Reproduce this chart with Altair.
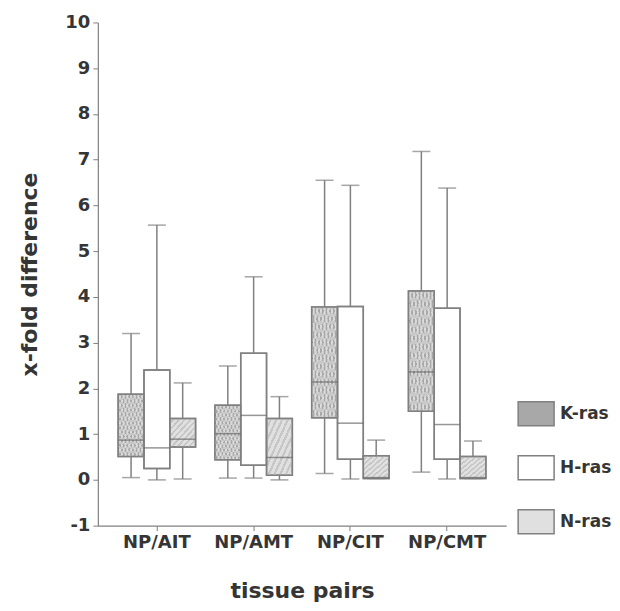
import altair as alt
import pandas as pd

groups = ["NP/AIT", "NP/AMT", "NP/CIT", "NP/CMT"]
genes = ["K-ras", "H-ras", "N-ras"]

k_lo = [0.05, 0.04, 0.14, 0.17]
k_q1 = [0.51, 0.44, 1.36, 1.50]
k_med = [0.87, 1.01, 2.14, 2.36]
k_q3 = [1.87, 1.63, 3.78, 4.13]
k_hi = [3.20, 2.49, 6.55, 7.18]

h_lo = [0.00, 0.04, 0.02, 0.02]
h_q1 = [0.25, 0.32, 0.45, 0.45]
h_med = [0.70, 1.41, 1.24, 1.21]
h_q3 = [2.40, 2.77, 3.79, 3.75]
h_hi = [5.57, 4.44, 6.44, 6.38]

n_lo = [0.02, 0.00, 0.03, 0.03]
n_q1 = [0.72, 0.10, 0.03, 0.03]
n_med = [0.89, 0.49, 0.05, 0.05]
n_q3 = [1.34, 1.34, 0.53, 0.51]
n_hi = [2.12, 1.82, 0.87, 0.85]

fills = ["#a8a8a8", "#ffffff", "#e0e0e0"]

rows = []
for gene, lo, q1, med, q3, hi in [
    ("K-ras", k_lo, k_q1, k_med, k_q3, k_hi),
    ("H-ras", h_lo, h_q1, h_med, h_q3, h_hi),
    ("N-ras", n_lo, n_q1, n_med, n_q3, n_hi),
]:
    for i, g in enumerate(groups):
        rows.append(dict(pair=g, gene=gene, lo=lo[i], q1=q1[i], med=med[i], q3=q3[i], hi=hi[i]))
df = pd.DataFrame(rows)

FONT = "DejaVu Sans"
LINE = "#808080"
TXT = "#353535"


def stripes(n, c_on, c_off, frac, x1, y1, x2, y2):
    stops = []
    for i in range(n):
        a = i / n
        b = (i + frac) / n
        c = (i + 1) / n
        stops += [
            {"offset": a, "color": c_off},
            {"offset": b, "color": c_off},
            {"offset": b, "color": c_on},
            {"offset": c, "color": c_on},
        ]
    return {"gradient": "linear", "x1": x1, "y1": y1, "x2": x2, "y2": y2, "stops": stops}


x = alt.X("pair:N", sort=groups, title="tissue pairs",
          scale=alt.Scale(paddingInner=0.2, paddingOuter=0.21),
          axis=alt.Axis(labelAngle=0, labelFont=FONT, labelFontSize=18, labelFontWeight="bold",
                        labelColor=TXT, titleFont=FONT, titleFontSize=22, titleFontWeight="bold",
                        titleColor=TXT, titlePadding=29, domainColor=LINE, tickColor=LINE,
                        tickSize=5, labelPadding=3, domainWidth=1.2))
xo = alt.XOffset("gene:N", sort=genes, scale=alt.Scale(paddingInner=0, paddingOuter=0))
yscale = alt.Scale(domain=[-1, 10], nice=False, zero=False)
yaxis = alt.Axis(values=list(range(-1, 11)), labelExpr="datum.value + ''",
                 labelFont=FONT, labelFontSize=18, labelFontWeight="bold",
                 labelColor=TXT, titleFont=FONT, titleFontSize=22, titleFontWeight="bold",
                 titleColor=TXT, titlePadding=23, domainColor=LINE, tickColor=LINE, tickSize=5,
                 labelPadding=3, grid=False, domainWidth=1.2)

base = alt.Chart(df)

whisk = base.mark_rule(color=LINE, strokeWidth=1.5).encode(
    x=x, xOffset=xo,
    y=alt.Y("lo:Q", scale=yscale, axis=yaxis, title="x-fold difference"),
    y2="hi:Q",
)
cap_hi = base.mark_tick(color=LINE, size=18, thickness=1.5).encode(
    x=x, xOffset=xo, y=alt.Y("hi:Q", scale=yscale))
cap_lo = base.mark_tick(color=LINE, size=18, thickness=1.5).encode(
    x=x, xOffset=xo, y=alt.Y("lo:Q", scale=yscale))
box = base.mark_bar(stroke=LINE, strokeWidth=1.5, opacity=1).encode(
    x=x, xOffset=xo,
    y=alt.Y("q1:Q", scale=yscale), y2="q3:Q",
    fill=alt.Fill("gene:N", sort=genes, scale=alt.Scale(domain=genes, range=fills),
                  legend=alt.Legend(title=None, orient="none", legendX=420, legendY=373,
                                    symbolType="M-1,-0.667L1,-0.667L1,0.667L-1,0.667Z",
                                    symbolSize=1296, symbolStrokeColor=LINE,
                                    symbolStrokeWidth=1.5, symbolOpacity=1,
                                    labelFont=FONT, labelFontSize=17, labelFontWeight="bold",
                                    labelColor=TXT, rowPadding=19, labelOffset=5)),
)

hatch_n = base.transform_filter(alt.datum.gene == "N-ras").mark_bar(
    fill=stripes(9, "#c6c6c6", "rgba(255,255,255,0)", 0.6, 0, 0, 1, 1), strokeWidth=0
).encode(x=x, xOffset=xo, y=alt.Y("q1:Q", scale=yscale), y2="q3:Q")

hatch_k1 = base.transform_filter(alt.datum.gene == "K-ras").mark_bar(
    fill=stripes(14, "rgba(240,240,240,0.45)", "rgba(255,255,255,0)", 0.5, 0, 0, 1, 1), strokeWidth=0
).encode(x=x, xOffset=xo, y=alt.Y("q1:Q", scale=yscale), y2="q3:Q")
hatch_k2 = base.transform_filter(alt.datum.gene == "K-ras").mark_bar(
    fill=stripes(14, "rgba(240,240,240,0.45)", "rgba(255,255,255,0)", 0.5, 1, 0, 0, 1), strokeWidth=0
).encode(x=x, xOffset=xo, y=alt.Y("q1:Q", scale=yscale), y2="q3:Q")

outline = base.mark_bar(fill="transparent", stroke=LINE, strokeWidth=1.5).encode(
    x=x, xOffset=xo, y=alt.Y("q1:Q", scale=yscale), y2="q3:Q")

med = base.mark_tick(color="#6a6a6a", size=26, thickness=1.5).encode(
    x=x, xOffset=xo, y=alt.Y("med:Q", scale=yscale))

chart = alt.layer(whisk, cap_hi, cap_lo, box, hatch_n, hatch_k1, hatch_k2, outline, med).properties(
    width=409, height=504, background="white",
    padding={"left": 10, "top": 5, "right": 0, "bottom": 0},
).configure_view(strokeWidth=0)

chart.save("out.html", embed_options={"renderer": "svg", "actions": False})
